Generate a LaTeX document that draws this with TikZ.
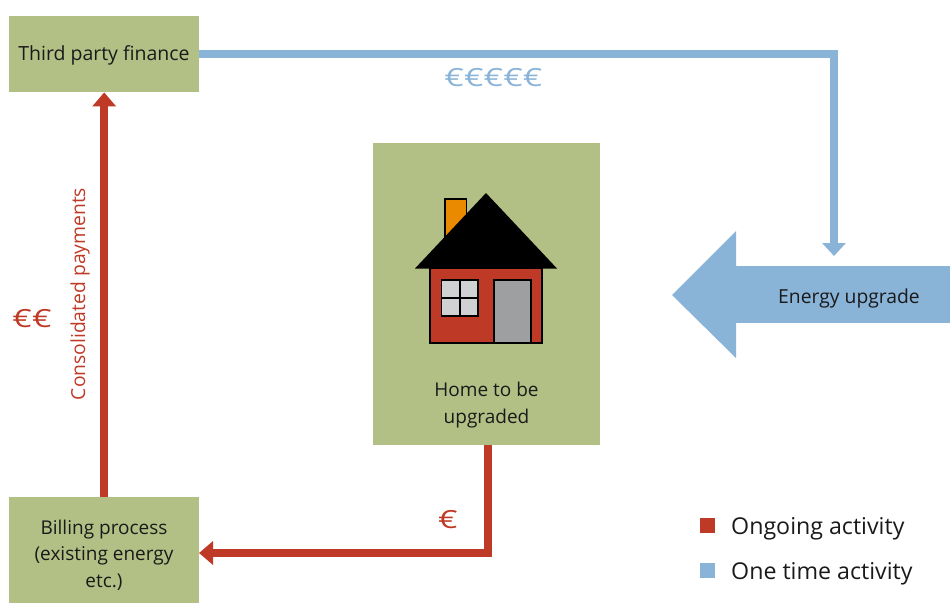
\documentclass[tikz,border=0pt]{standalone}
\usepackage{fontspec}
\setmainfont{Open Sans}
\usetikzlibrary{arrows.meta,calc}
\definecolor{boxgreen}{HTML}{B3C085}
\definecolor{bluec}{HTML}{8AB3D8}
\definecolor{redc}{HTML}{BF3A26}
\definecolor{orangec}{HTML}{EA8A00}
\definecolor{wing}{HTML}{D0D1D3}
\definecolor{doorc}{HTML}{9E9FA1}
\definecolor{txt}{HTML}{1A1A1A}
\newcommand{\wideeuro}[1]{\scalebox{1.33}[1]{#1}}
\tikzset{
  x=1pt,y=-1pt,
  greenbox/.style={fill=boxgreen,draw=none,inner sep=0pt,anchor=north west},
  boxtxt/.style={inner sep=0pt,align=center,text=txt,font=\fontsize{19}{27}\selectfont},
  bluearrow/.style={draw=bluec,line width=8pt,-{Triangle[length=13pt,width=23pt]}},
  redarrow/.style={draw=redc,line width=8pt,-{Triangle[length=14pt,width=23pt]}},
  houseline/.style={draw=black,line width=1.3pt},
  legendsq/.style={inner sep=0pt,minimum size=15pt},
  legendtxt/.style={anchor=west,inner sep=0pt,text=txt,font=\fontsize{23.2}{27}\selectfont},
  euro/.style={inner sep=0pt,font=\fontsize{25}{27}\selectfont},
}
\begin{document}
\begin{tikzpicture}
\useasboundingbox (0,0) rectangle (950,603);
% boxes
\node[greenbox,minimum width=190pt,minimum height=76pt] (tp) at (9,16) {};
\node[boxtxt,font=\fontsize{19.5}{27}\selectfont] (tplbl) at (104,55) {Third party finance};
\node[greenbox,minimum width=190pt,minimum height=106pt] (bill) at (9,497) {};
\node[boxtxt,font=\fontsize{19}{26.5}\selectfont] (billlbl) at (104,555) {Billing process\\(existing energy\\etc.)};
\node[greenbox,minimum width=227pt,minimum height=302pt] (home) at (373,143) {};
\node[boxtxt] (homelbl) at (486.5,405) {Home to be\\upgraded};
% energy upgrade arrow
\fill[bluec] (672,295) -- (736,231) -- (736,358) -- cycle;
\node[fill=bluec,inner sep=0pt,minimum width=214pt,minimum height=57pt] (eu) at (843,294.5) {};
\node[boxtxt,font=\fontsize{19.3}{27}\selectfont] (eulbl) at (849,298) {Energy upgrade};
% connectors
\coordinate (eutarget) at (834,256);
\coordinate (billin) at (199,553);
\coordinate (homeout) at (488,445);
\draw[bluearrow] (tp.east) -| (eutarget);
\draw[redarrow] (bill.north) -- (tp.south);
\draw[redarrow] (homeout) |- (billin);
% house
\draw[houseline,fill=orangec] (445,199) rectangle (466.5,240);
\draw[houseline,fill=redc] (430,268) rectangle (542,343);
\fill[black] (486,193) -- (557,268.5) -- (415,268.5) -- cycle;
\draw[houseline,fill=wing] (441.5,280) rectangle (478,316);
\draw[houseline] (460,280) -- (460,316) (441.5,298) -- (478,298);
\draw[houseline,fill=doorc] (494,280) rectangle (531,343);
% labels
\node[euro,text=bluec] (e5) at (493.5,78) {\wideeuro{€€€€€}};
\node[euro,text=redc] (e2) at (32,319) {\wideeuro{€€}};
\node[euro,text=redc] (e1) at (448,520) {\wideeuro{€}};
\node[inner sep=0pt,rotate=90,text=redc,font=\fontsize{19.3}{24}\selectfont] (cp) at (80,294) {Consolidated payments};
% legend
\node[legendsq,fill=redc] (l1) at (707.5,525.5) {};
\node[legendsq,fill=bluec] (l2) at (707.5,570.5) {};
\node[legendtxt] (t1) at (731,529) {Ongoing activity};
\node[legendtxt] (t2) at (731,574) {One time activity};
\end{tikzpicture}
\end{document}
